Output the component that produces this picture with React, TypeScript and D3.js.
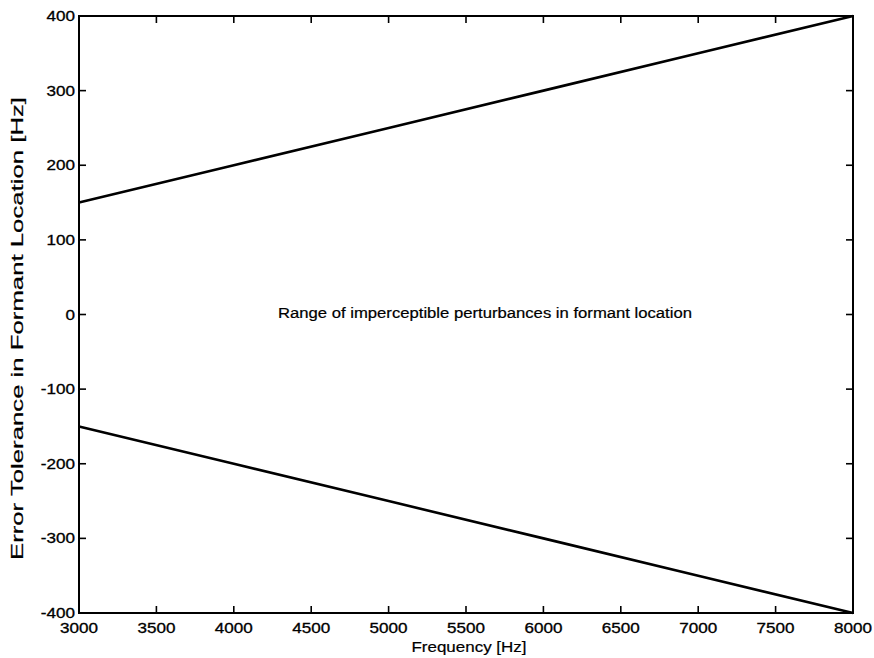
import React from "react";
import * as d3 from "d3";

const freq = [3000, 4000, 5000, 6000, 7000, 8000];
const upper = [150, 200, 250, 300, 350, 400];
const lower = [-150, -200, -250, -300, -350, -400];
const xTicks = [3000, 3500, 4000, 4500, 5000, 5500, 6000, 6500, 7000, 7500, 8000];
const yTicks = [-400, -300, -200, -100, 0, 100, 200, 300, 400];
const xLabel = "Frequency [Hz]";
const yLabel = "Error Tolerance in Formant Location [Hz]";
const annotation = "Range of imperceptible perturbances in formant location";

const W = 874;
const H = 658;
const L = 79, R = 853, T = 16, B = 613;
const FONT = "'Liberation Sans', Arial, Helvetica, sans-serif";
const SX = 1.22;

export default function App() {
  const x = d3.scaleLinear().domain([3000, 8000]).range([L, R]);
  const y = d3.scaleLinear().domain([-400, 400]).range([B, T]);
  const line = d3
    .line<number>()
    .x((_, i) => x(freq[i]))
    .y((d) => y(d));
  const tl = 7;
  return (
    <svg
      width={W}
      height={H}
      style={{ position: "absolute", left: 0, top: 0, background: "#fff" }}
      fontFamily={FONT}
    >
      <rect x={0} y={0} width={W} height={H} fill="#fff" />
      <path d={line(upper) || ""} fill="none" stroke="#000" strokeWidth={2.6} />
      <path d={line(lower) || ""} fill="none" stroke="#000" strokeWidth={2.6} />
      <rect x={L} y={T} width={R - L} height={B - T} fill="none" stroke="#000" strokeWidth={2} />
      {xTicks.map((t) => (
        <g key={"x" + t}>
          <line x1={x(t)} x2={x(t)} y1={B} y2={B - tl} stroke="#000" strokeWidth={1.6} />
          <line x1={x(t)} x2={x(t)} y1={T} y2={T + tl} stroke="#000" strokeWidth={1.6} />
          <text
            transform={`translate(${x(t)},${B + 20}) scale(${SX},1)`}
            textAnchor="middle"
            fontSize={14}
            fill="#000"
            stroke="#000"
            strokeWidth={0.3}
          >
            {t}
          </text>
        </g>
      ))}
      {yTicks.map((t) => (
        <g key={"y" + t}>
          <line x1={L} x2={L + tl} y1={y(t)} y2={y(t)} stroke="#000" strokeWidth={1.6} />
          <line x1={R} x2={R - tl} y1={y(t)} y2={y(t)} stroke="#000" strokeWidth={1.6} />
          <text
            transform={`translate(${L - 4},${y(t) + 5}) scale(${SX},1)`}
            textAnchor="end"
            fontSize={14}
            fill="#000"
            stroke="#000"
            strokeWidth={0.3}
          >
            {t < 0 ? "-" + Math.abs(t) : t}
          </text>
        </g>
      ))}
      <text
        x={278}
        y={318}
        fontSize={14}
        textLength={414}
        lengthAdjust="spacingAndGlyphs"
        fill="#000"
        stroke="#000"
        strokeWidth={0.2}
      >
        {annotation}
      </text>
      <text
        x={469}
        y={652}
        textAnchor="middle"
        fontSize={15}
        textLength={115}
        lengthAdjust="spacingAndGlyphs"
        fill="#000"
        stroke="#000"
        strokeWidth={0.2}
      >
        {xLabel}
      </text>
      <text
        transform={`translate(23,${(97 + 560) / 2}) rotate(-90)`}
        textAnchor="middle"
        fontSize={17}
        textLength={463}
        lengthAdjust="spacingAndGlyphs"
        fill="#000"
        stroke="#000"
        strokeWidth={0.2}
      >
        {yLabel}
      </text>
    </svg>
  );
}
